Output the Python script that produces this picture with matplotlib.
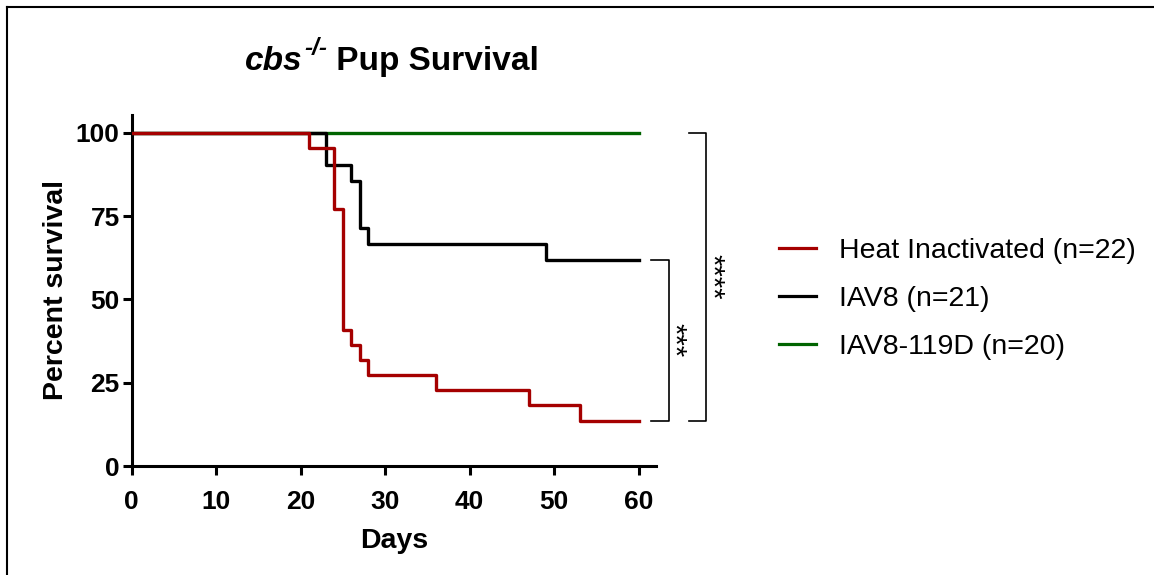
import matplotlib
matplotlib.use("Agg")
import matplotlib.pyplot as plt
from matplotlib.lines import Line2D
from matplotlib.transforms import offset_copy

# ===================== Data =====================

heat_days = [0, 21, 24, 25, 26, 27, 28, 36, 47, 53, 60]
heat_surv = [100, 95.45, 77.27, 40.91, 36.36, 31.82, 27.27, 22.73, 18.18, 13.64, 13.64]

iav8_days = [0, 23, 26, 27, 28, 49, 60]
iav8_surv = [100, 90.48, 85.71, 71.43, 66.67, 61.90, 61.90]

mut_days = [0, 60]
mut_surv = [100, 100]

labels = ["Heat Inactivated (n=22)", "IAV8 (n=21)", "IAV8-119D (n=20)"]
colors = ["#A50000", "black", "#006400"]

x_ticks = [0, 10, 20, 30, 40, 50, 60]
y_ticks = [0, 25, 50, 75, 100]

# ===================== Style =====================

plt.rcParams["font.family"] = ["Liberation Sans", "DejaVu Sans"]

W, H = 1154, 575
fig = plt.figure(figsize=(W / 100, H / 100), dpi=100)
ax = fig.add_axes([131.5 / W, 1 - 466 / H, (656.5 - 131.5) / W, (466 - 115) / H])

lw = 2.4
ax.step(mut_days, mut_surv, where="post", color=colors[2], lw=lw, zorder=3)
ax.step(iav8_days, iav8_surv, where="post", color=colors[1], lw=lw, zorder=4)
ax.step(heat_days, heat_surv, where="post", color=colors[0], lw=lw, zorder=5)

ax.set_xlim(0, 62.1)
ax.set_ylim(0, 105.4)
ax.set_xticks(x_ticks)
ax.set_yticks(y_ticks)
for s in ["top", "right"]:
    ax.spines[s].set_visible(False)
for s in ["left", "bottom"]:
    ax.spines[s].set_linewidth(2.2)
ax.tick_params(axis="both", direction="out", length=6.5, width=2.2, labelsize=19)
ax.tick_params(axis="x", pad=11)
ax.tick_params(axis="y", pad=2)
for lab in ax.get_xticklabels() + ax.get_yticklabels():
    lab.set_fontweight("bold")

ax.set_xlabel("Days", fontsize=20.5, fontweight="bold", labelpad=10)
ax.set_ylabel("Percent survival", fontsize=20.5, fontweight="bold", labelpad=5)

# ===================== Title (italic gene + superscript) =====================

renderer = fig.canvas.get_renderer()
tx, ty = 245 / W, 1 - 70 / H
t1 = fig.text(tx, ty, "cbs", ha="left", va="baseline",
              fontsize=24, fontweight="bold", style="italic")
w1 = t1.get_window_extent(renderer).width
tr = offset_copy(fig.transFigure, fig=fig, x=w1 * 0.72 + 1, y=11, units="points")
t2 = fig.text(tx, ty, "-/-", ha="left", va="baseline",
              fontsize=17.5, fontweight="bold", style="italic", transform=tr)
w2 = t2.get_window_extent(renderer).width
tr2 = offset_copy(fig.transFigure, fig=fig, x=(w1 + w2) * 0.72 + 1, y=0, units="points")
fig.text(tx, ty, " Pup Survival", ha="left", va="baseline",
         fontsize=24, fontweight="bold", transform=tr2)

# ===================== Significance brackets =====================

def bracket(x_tip, x_bar, y_lo, y_hi, stars, x_txt):
    ax.plot([x_tip, x_bar, x_bar, x_tip], [y_hi, y_hi, y_lo, y_lo],
            color="black", lw=1.2, clip_on=False)
    ax.text(x_txt, (y_lo + y_hi) / 2, stars, rotation=270, ha="center",
            va="center", fontsize=21, clip_on=False)

bracket(61.5, 63.6, heat_surv[-1], iav8_surv[-1], "***", 64.1)
bracket(65.9, 68.0, heat_surv[-1], mut_surv[-1], "****", 68.7)

# ===================== Legend =====================

handles = [Line2D([0], [0], color=c, lw=2.3) for c in colors]
fig.legend(handles, labels, loc="center left", bbox_to_anchor=(765 / W, 1 - 299 / H),
           frameon=False, fontsize=20.5, handlelength=1.3, handletextpad=0.8,
           labelspacing=0.78, borderpad=0)

# ===================== Frame =====================

fig.add_artist(Line2D([6.5 / W, 6.5 / W], [0, 1 - 6.5 / H], color="black", lw=1.5,
                      transform=fig.transFigure))
fig.add_artist(Line2D([6.5 / W, 1], [1 - 6.5 / H, 1 - 6.5 / H], color="black", lw=1.5,
                      transform=fig.transFigure))

fig.savefig("out.png", dpi=100)
